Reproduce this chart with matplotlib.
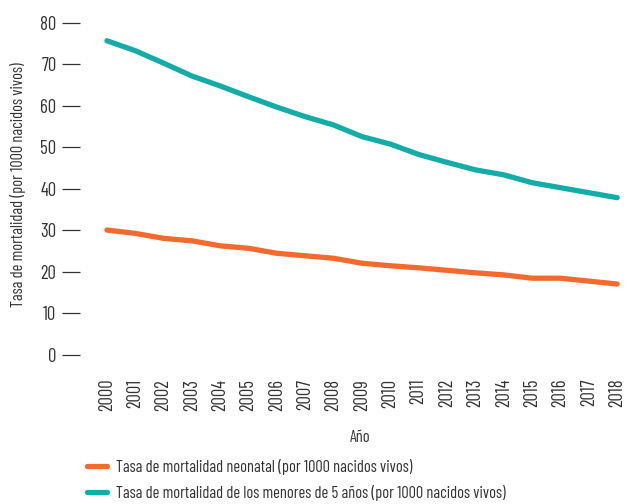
import matplotlib
matplotlib.use('Agg')
import matplotlib.pyplot as plt

years = list(range(2000, 2019))
neonatal = [30.1, 29.3, 28.1, 27.5, 26.3, 25.7, 24.5, 23.9, 23.3, 22.1, 21.5,
            21.0, 20.4, 19.8, 19.3, 18.5, 18.5, 17.8, 17.1]
under5 = [75.7, 73.3, 70.3, 67.2, 64.8, 62.2, 59.7, 57.4, 55.4, 52.6, 50.8,
          48.3, 46.4, 44.6, 43.4, 41.5, 40.3, 39.1, 37.9]
y_ticks = [0, 10, 20, 30, 40, 50, 60, 70, 80]

plt.rcParams['font.family'] = ['Barlow Condensed', 'DejaVu Sans']
text_col = '#333333'
fs = 11.8
tick_fs = 13.5

W, H = 627, 504
fig = plt.figure(figsize=(W / 100, H / 100), dpi=100)
ax = fig.add_axes([80 / W, 1 - 358 / H, 540 / W, 343 / H])

ax.plot(years, neonatal, color='#F26A2E', lw=3.8, solid_capstyle='round',
        label='Tasa de mortalidad neonatal (por 1000 nacidos vivos)')
ax.plot(years, under5, color='#14ACA9', lw=3.8, solid_capstyle='round',
        label='Tasa de mortalidad de los menores de 5 años (por 1000 nacidos vivos)')

ax.set_xlim(1999.05, 2018.1)
ax.set_ylim(-0.72, 81.9)
ax.set_yticks(y_ticks)
ax.set_xticks(years)
ax.set_xticklabels([str(y) for y in years], rotation=90)

for s in ax.spines.values():
    s.set_visible(False)
ax.tick_params(axis='y', length=13, width=0.9, color=text_col, labelcolor=text_col,
               labelsize=tick_fs, pad=4)
ax.tick_params(axis='x', length=0, labelcolor=text_col, labelsize=tick_fs, pad=15)

fig.text(18 / W, 1 - 185 / H, 'Tasa de mortalidad (por 1000 nacidos vivos)',
         rotation=90, ha='center', va='center', color=text_col, fontsize=fs)
fig.text(360 / W, 1 - 437 / H, 'Año', ha='center', va='center',
         color=text_col, fontsize=fs)

fig.legend(loc='upper left', bbox_to_anchor=(87 / W, 1 - 459 / H), frameon=False,
           handlelength=1.2, handletextpad=0.6, labelspacing=0.6, fontsize=fs,
           labelcolor=text_col, borderaxespad=0, borderpad=0)

fig.savefig('out.png', dpi=100)
